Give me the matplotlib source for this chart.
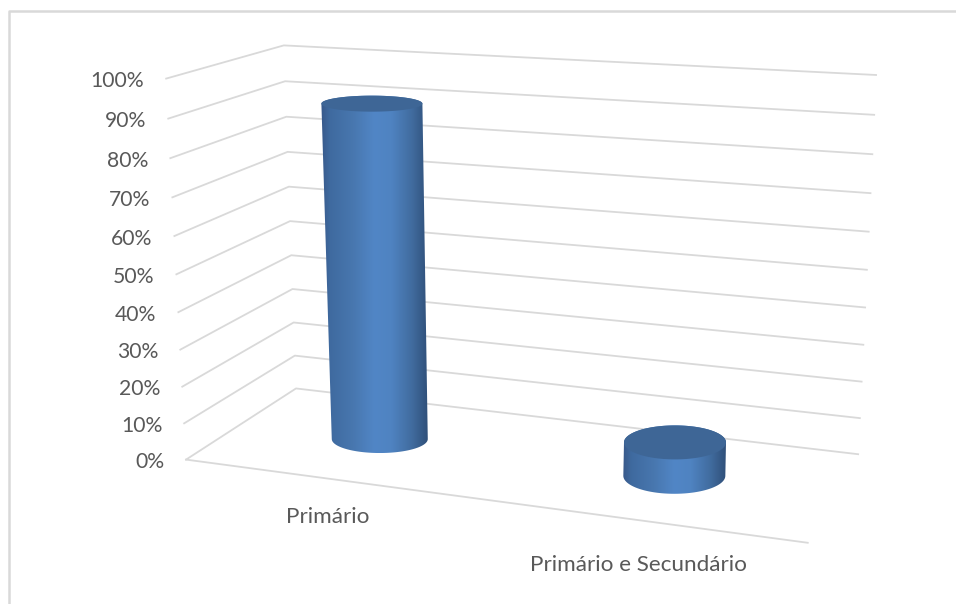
import numpy as np
import matplotlib
matplotlib.use("Agg")
import matplotlib.pyplot as plt
from matplotlib.colors import LinearSegmentedColormap
from matplotlib.patches import Polygon

categories = ["Primário", "Primário e Secundário"]
values = [91, 9]
ticks = [0, 10, 20, 30, 40, 50, 60, 70, 80, 90, 100]
tick_labels = ["0%", "10%", "20%", "30%", "40%", "50%", "60%", "70%", "80%", "90%", "100%"]

# box corners (category pos, depth, value) and where they land on the page
box = [(0, 0, 0), (0, 1, 0), (2, 1, 0), (2, 0, 0), (0, 0, 100), (0, 1, 100), (2, 1, 100)]
page = [(186, 459), (296, 389), (858, 454), (808, 543), (166, 79), (284, 45), (876, 75)]

# half sizes of the ellipses: base w, base h, top w, top h
cyl_shape = [(48, 14, 50.5, 8), (51, 18, 51, 17)]
label_dy = [38, 45]

grid_col = "#d9d9d9"
text_col = "#595959"
shade = LinearSegmentedColormap.from_list(
    "cyl", [(0, "#38598a"), (0.08, "#3f6a9f"), (0.3, "#4877af"), (0.5, "#5186c6"), (0.66, "#4f83c1"),
            (0.85, "#416c9f"), (1, "#30507a")])


def fit_camera(src, dst):
    rows = []
    for (a, b, c), (u, v) in zip(src, dst):
        c = c / 100
        rows.append([a, b, c, 1, 0, 0, 0, 0, -u * a, -u * b, -u * c, -u])
        rows.append([0, 0, 0, 0, a, b, c, 1, -v * a, -v * b, -v * c, -v])
    return np.linalg.svd(np.array(rows))[2][-1].reshape(3, 4)


cam = fit_camera(box, page)


def proj(a, b, c):
    p = cam @ np.array([a, b, c / 100, 1])
    return p[0] / p[2], p[1] / p[2]


fig = plt.figure(figsize=(9.56, 6.04), dpi=100)
ax = fig.add_axes([0, 0, 1, 1])
ax.set_xlim(0, 956)
ax.set_ylim(604, 0)
ax.axis("off")
plt.rcParams["font.family"] = ["Lato", "DejaVu Sans"]

# frame of the chart area, right and bottom are cut off in the picture
ax.plot([9, 9, 956], [604, 11, 11], color=grid_col, lw=1.8)

for t, lab in zip(ticks, tick_labels):
    pts = [proj(0, 0, t), proj(0, 1, t), proj(2, 1, t)]
    ax.plot([p[0] for p in pts], [p[1] for p in pts], color=grid_col, lw=1.3, zorder=1)
    x, y = pts[0]
    ax.text(x - 22, y + 2.5, lab, ha="right", va="center", fontsize=15.2, color=text_col)

f0, f1 = proj(0, 0, 0), proj(2, 0, 0)
ax.plot([f0[0], f1[0]], [f0[1], f1[1]], color=grid_col, lw=1.3, zorder=1)

th = np.linspace(0, 2 * np.pi, 200)
for i, val in enumerate(values):
    bx, by = proj(i + 0.5, 0.5, 0)
    tx, ty = proj(i + 0.5, 0.5, val)
    bw, bh, tw, th_h = cyl_shape[i]
    # outline of the body: top left, down the side, round the base, up again
    front = np.linspace(np.pi, 0, 80)
    back = np.linspace(0, np.pi, 80)
    xs = np.r_[bx + bw * np.cos(front), tx + tw * np.cos(back)]
    ys = np.r_[by + bh * np.sin(front), ty - th_h * np.sin(back)]
    body = Polygon(np.c_[xs, ys], closed=True, fc="none", ec="none", zorder=3)
    ax.add_patch(body)
    grad = np.linspace(0, 1, 256).reshape(1, -1)
    left, right = xs.min(), xs.max()
    im = ax.imshow(grad, cmap=shade, aspect="auto", zorder=3,
                   extent=(left, right, ys.max(), ys.min()))
    im.set_clip_path(body)
    ax.add_patch(Polygon(np.c_[tx + tw * np.cos(th), ty + th_h * np.sin(th)],
                         closed=True, fc="#3e6696", ec="none", zorder=4))
    lx, ly = proj(i + 0.5, 0, 0)
    ax.text(lx, ly + label_dy[i], categories[i], ha="center", va="center", fontsize=16.2, color=text_col)

ax.set_xlim(0, 956)
ax.set_ylim(604, 0)
fig.savefig("out.png", dpi=100)
